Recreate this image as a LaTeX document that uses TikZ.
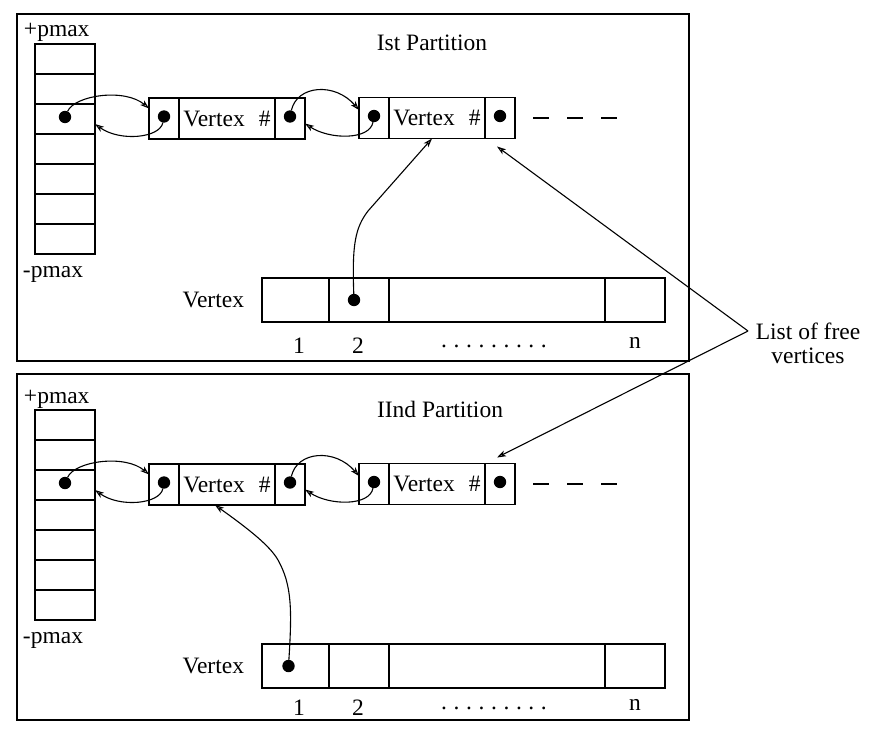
\documentclass[tikz,border=0pt]{standalone}
\usepackage{fontspec}
\setmainfont{Liberation Serif}
\usetikzlibrary{arrows.meta}
\newcommand{\myellipsis}{.\hspace{3.3pt}.\hspace{3.3pt}.\hspace{3.3pt}.\hspace{3.3pt}.\hspace{3.3pt}.\hspace{3.3pt}.\hspace{3.3pt}.\hspace{3.3pt}.}
\begin{document}
\begin{tikzpicture}[x=0.5pt,y=-0.5pt,
  font=\fontsize{11.75}{14}\selectfont,
  every node/.style={inner sep=0pt, outer sep=0pt},
  cell/.style={draw, line width=0.55pt, anchor=west, minimum height=20.5pt},
  stackcell/.style={draw, line width=0.55pt, anchor=north west, minimum width=30pt, minimum height=15pt},
  arrcell/.style={draw, line width=0.55pt, anchor=west, minimum height=22pt},
  dotn/.style={circle, fill, minimum size=6.2pt},
  frame/.style={draw, line width=0.6pt, anchor=north west, minimum width=336pt},
  link/.style={line width=0.55pt, -{Stealth[open,length=4.5pt,width=3pt,inset=1.2pt]}},
  dashline/.style={line width=0.55pt, dash pattern=on 8pt off 9pt},
  lbl/.style={anchor=base}]
\useasboundingbox (0,0) rectangle (883,733);

% frames
\node[frame, minimum height=173.5pt] (f1) at (17,14) {};
\node[frame, minimum height=173pt] (f2) at (17,374) {};

% titles
\node (t1) at (432,43) {Ist Partition};
\node (t2) at (440,409) {IInd Partition};

\foreach \p/\d/\e in {1/0/0, 2/366/362} {
  % stack
  \foreach \i in {1,...,7} {
    \node[stackcell] (s\p-\i) at ({35},{44+\d+30*(\i-1)}) {};
  }
  \node[anchor=base west] (pp\p) at (24,{37+\d}) {+pmax};
  \node[anchor=base west] (pm\p) at (23,{277+\d}) {-pmax};
  \node[dotn] (sd\p) at ([yshift=1pt]s\p-3.center) {};

  % first list element
  \node[cell, minimum width=15pt] (a\p-l) at (149,{118.5+\d}) {};
  \node[cell, minimum width=48pt] (a\p-m) at (a\p-l.east) {Vertex\hspace{0.6em}\#\hspace{3pt}};
  \node[cell, minimum width=15pt] (a\p-r) at (a\p-m.east) {};
  \node[dotn] (ad\p) at ([yshift=1pt]a\p-l.center) {};
  \node[dotn] (ard\p) at ([yshift=1pt]a\p-r.center) {};

  % second list element
  \node[cell, minimum width=15pt] (b\p-l) at (359,{118+\d}) {};
  \node[cell, minimum width=48pt] (b\p-m) at (b\p-l.east) {Vertex\hspace{0.6em}\#\hspace{3pt}};
  \node[cell, minimum width=15pt] (b\p-r) at (b\p-m.east) {};
  \node[dotn] (bd\p) at ([yshift=1pt]b\p-l.center) {};
  \node[dotn] (brd\p) at ([yshift=1pt]b\p-r.center) {};

  \draw[dashline] ([xshift=9pt]b\p-r.east) -- ++(85,0);

  % vertex array
  \node[arrcell, minimum width=33.5pt] (v\p-1) at (262,{300+\d}) {};
  \node[arrcell, minimum width=30pt] (v\p-2) at (v\p-1.east) {};
  \node[arrcell, minimum width=108pt] (v\p-3) at (v\p-2.east) {};
  \node[arrcell, minimum width=30pt] (v\p-4) at (v\p-3.east) {};
  \node[anchor=east] (vl\p) at ([xshift=-9pt]v\p-1.west) {Vertex};

  \node[lbl] (n\p-1) at (299,{353+\e}) {1};
  \node[lbl] (n\p-2) at (358,{353+\e}) {2};
  \node[lbl] (n\p-3) at (494,{347+\e}) {\myellipsis};
  \node[lbl] (n\p-4) at (635,{348+\e}) {n};

  % links
  \draw[link] (sd\p) .. controls (75,{95+\d}) and (125,{88+\d}) .. ([yshift=5pt]a\p-l.west);
  \draw[link] (ad\p) .. controls (160,{138+\d}) and (120,{142+\d}) .. ([yshift=-2.5pt]s\p-3.east);
  \draw[link] (ard\p) .. controls (297,{85+\d}) and (335,{82+\d}) .. ([yshift=4pt]b\p-l.west);
  \draw[link] (bd\p) .. controls (370,{140+\d}) and (330,{140+\d}) .. ([yshift=-2.5pt]a\p-r.east);
}

% array pointers
\node[dotn] (vd1) at ([xshift=-2.5pt]v1-2.center) {};
\node[dotn] (vd2) at ([xshift=-3.5pt]v2-1.center) {};
\draw[link] (vd1) .. controls (352,245) and (355,228) .. (368,211) -- ([xshift=-2.5pt]b1-m.south);
\draw[link] (vd2) .. controls (292,610) and (292,585) .. (278,560) .. controls (270,546) and (250,530) .. ([xshift=-6pt]a2-m.south);

% free list label
\node[align=center, font=\fontsize{11.75}{12}\selectfont] (free) at (808,343) {List of free\\vertices};
\coordinate (apex) at (748,331);
\draw[link] (apex) -- ([xshift=-1.5pt,yshift=-4pt]b1-r.south);
\draw[link] (apex) -- ([xshift=-1.5pt,yshift=3pt]b2-r.north);
\end{tikzpicture}
\end{document}
